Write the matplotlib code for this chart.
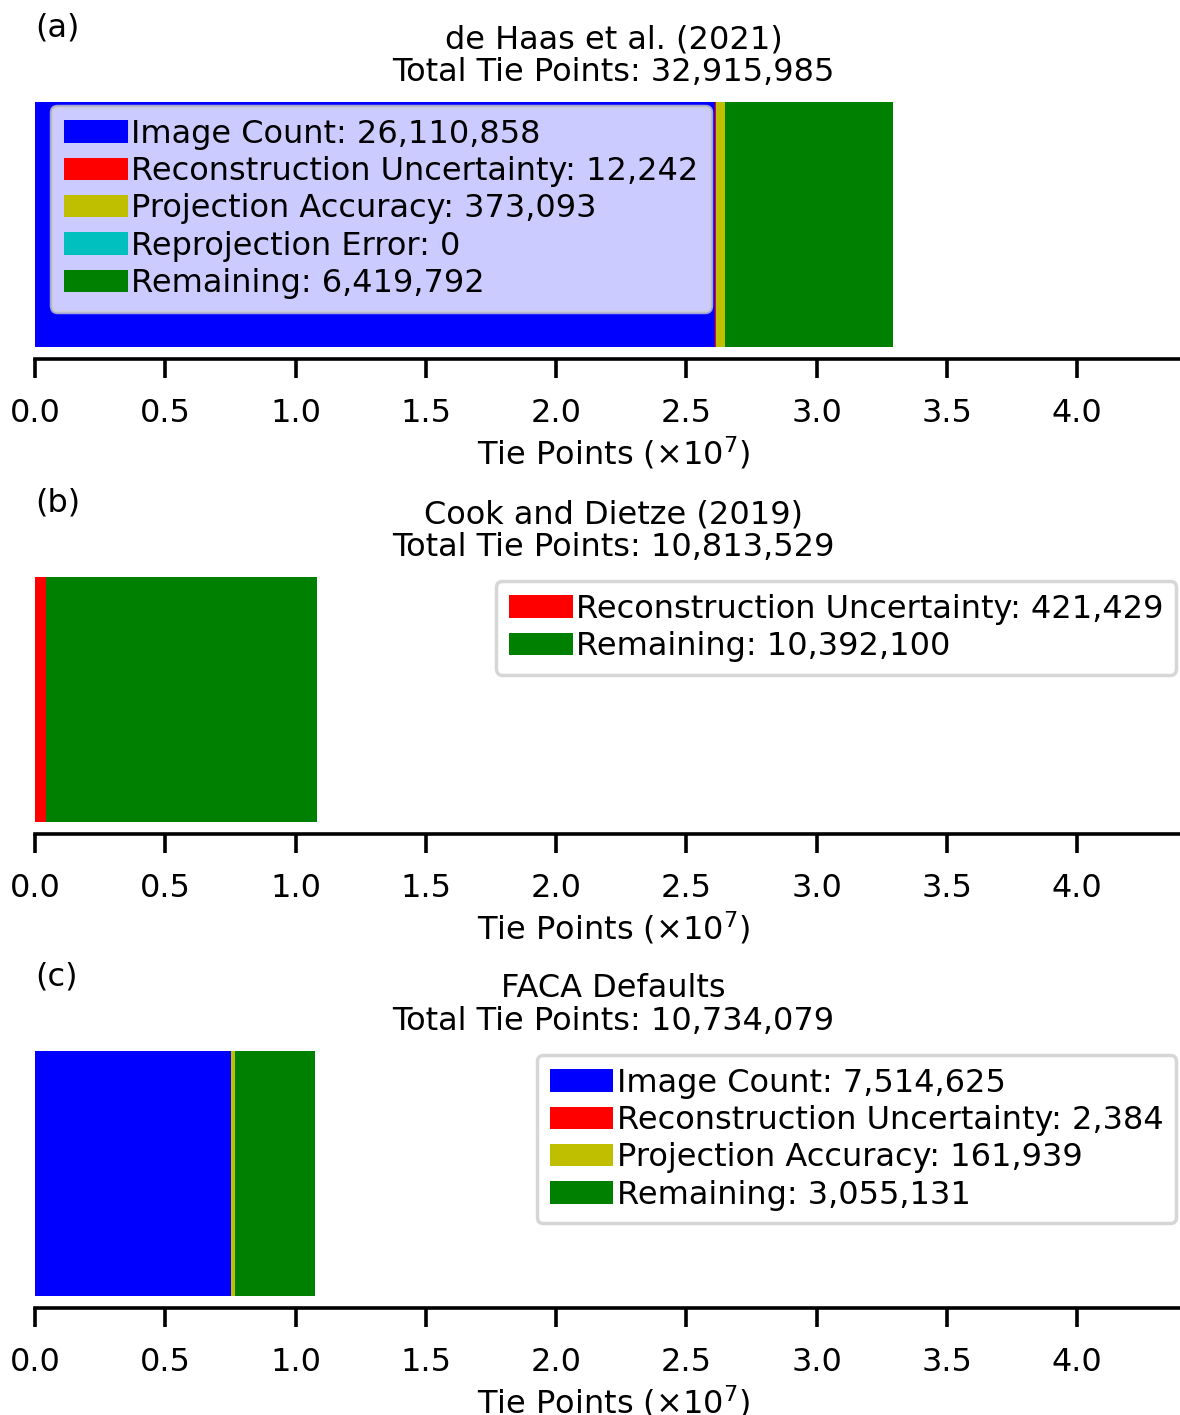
import matplotlib
matplotlib.use('Agg')
import matplotlib.pyplot as plt
from matplotlib.ticker import FuncFormatter, MultipleLocator

# categories and colours (matplotlib base colours)
categories = ['Image Count', 'Reconstruction Uncertainty', 'Projection Accuracy',
              'Reprojection Error', 'Remaining']
colors = ['b', 'r', 'y', 'c', 'g']

panel_tags = ['(a)', '(b)', '(c)']
panel_titles = ['de Haas et al. (2021)', 'Cook and Dietze (2019)', 'FACA Defaults']

# tie point counts per category, per panel
haas_counts = [26110858, 12242, 373093, 0, 6419792]
cook_counts = [0, 421429, 0, 0, 10392100]
faca_counts = [7514625, 2384, 161939, 0, 3055131]
all_counts = [haas_counts, cook_counts, faca_counts]

# which categories show up in each legend
haas_legend = [0, 1, 2, 3, 4]
cook_legend = [1, 4]
faca_legend = [0, 1, 2, 4]
all_legends = [haas_legend, cook_legend, faca_legend]
legend_locs = ['upper left', 'upper right', 'upper right']

FS = 23
fig = plt.figure(figsize=(11.8, 14.15), dpi=100)
bottoms = [0.7461, 0.4104, 0.07544]

for i in range(3):
    ax = fig.add_axes([0.02966, bottoms[i], 0.9805, 0.19046])
    counts = all_counts[i]
    total = sum(counts)
    left = 0
    handles = {}
    for k, (cat, col) in enumerate(zip(categories, colors)):
        b = ax.barh(0, counts[k], left=left, color=col, height=0.8,
                    label=f'{cat}: {counts[k]:,}')
        handles[k] = b
        left += counts[k]
    ax.set_xlim(0, 4.44e7)
    ax.xaxis.set_major_locator(MultipleLocator(0.5e7))
    ax.xaxis.set_major_formatter(FuncFormatter(lambda v, p: f'{v / 1e7:.1f}'))
    ax.set_yticks([])
    for s in ['top', 'right', 'left']:
        ax.spines[s].set_visible(False)
    ax.spines['bottom'].set_linewidth(2.6)
    ax.tick_params(axis='x', length=14, width=2.6, labelsize=FS, pad=14)
    ax.set_xlabel('Tie Points ($\\times10^7$)', fontsize=FS, labelpad=4)
    ax.set_title(f'{panel_titles[i]}\nTotal Tie Points: {total:,}', fontsize=FS,
                 linespacing=1.1, pad=6)
    ax.text(0, 1.23, panel_tags[i], transform=ax.transAxes, fontsize=FS,
            ha='left', va='center')
    idx = all_legends[i]
    leg = ax.legend([handles[k] for k in idx],
                    [f'{categories[k]}: {counts[k]:,}' for k in idx],
                    loc=legend_locs[i], fontsize=FS, labelspacing=0.2,
                    handletextpad=0.1, borderpad=0.4)
    leg.get_frame().set_linewidth(2.5)

fig.savefig('out.png', dpi=100)
